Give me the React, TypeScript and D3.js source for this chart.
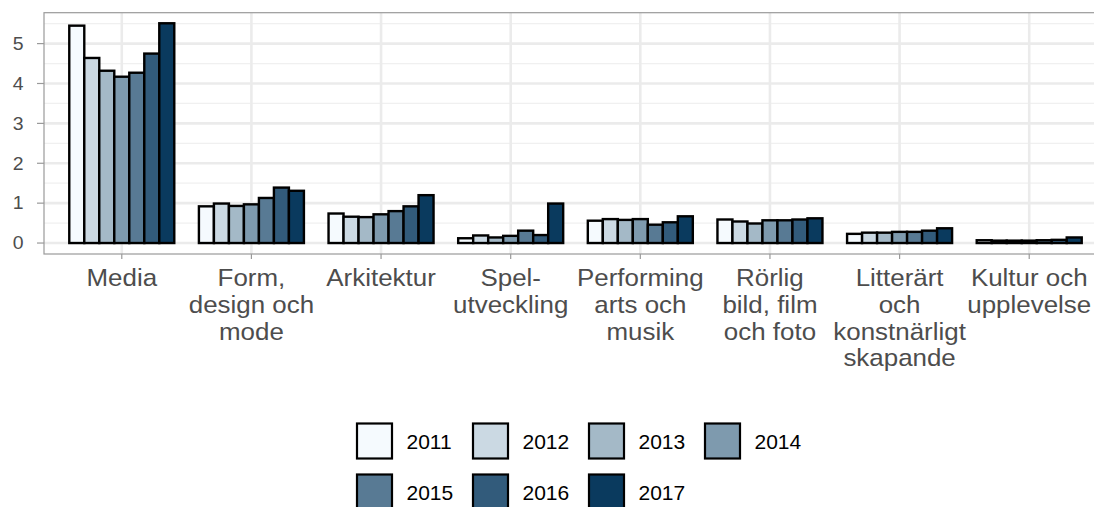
import React from 'react';
import * as d3 from 'd3';

// categories (line breaks as in the original axis)
const categories = [
  'Media',
  'Form,\ndesign och\nmode',
  'Arkitektur',
  'Spel-\nutveckling',
  'Performing\narts och\nmusik',
  'Rörlig\nbild, film\noch foto',
  'Litterärt\noch\nkonstnärligt\nskapande',
  'Kultur och\nupplevelse',
];

const years = ['2011', '2012', '2013', '2014', '2015', '2016', '2017'];

// values per category, one per year
const media = [5.45, 4.64, 4.32, 4.17, 4.27, 4.75, 5.51];
const form = [0.92, 0.99, 0.93, 0.97, 1.13, 1.39, 1.31];
const arkitektur = [0.74, 0.66, 0.65, 0.72, 0.8, 0.92, 1.2];
const spel = [0.12, 0.19, 0.14, 0.18, 0.31, 0.2, 0.99];
const performing = [0.56, 0.6, 0.58, 0.6, 0.46, 0.52, 0.67];
const rorlig = [0.59, 0.54, 0.49, 0.57, 0.57, 0.59, 0.62];
const litterart = [0.23, 0.26, 0.26, 0.28, 0.28, 0.31, 0.37];
const kultur = [0.07, 0.06, 0.06, 0.06, 0.07, 0.08, 0.14];

const values = [media, form, arkitektur, spel, performing, rorlig, litterart, kultur];

const yTicks = [0, 1, 2, 3, 4, 5];
const yMinor = [0.5, 1.5, 2.5, 3.5, 4.5, 5.5];

const colors = ['#F5FAFE', '#CBD9E3', '#A4B9C7', '#7E9AAE', '#587A94', '#325B7B', '#0A3A5E'];

const W = 1094;
const H = 507;
const panel = { left: 44, right: 1107, top: 12.7, bottom: 254 };

const App: React.FC = () => {
  const x = d3
    .scalePoint<string>()
    .domain(categories)
    .range([panel.left, panel.right])
    .padding(0.6);

  const groupW = x.step() * 0.81;
  const inner = d3
    .scaleBand<string>()
    .domain(years)
    .range([-groupW / 2, groupW / 2])
    .padding(0);

  const y = d3
    .scaleLinear()
    .domain([-0.275, 5.775])
    .range([panel.bottom, panel.top]);

  const color = d3.scaleOrdinal<string, string>().domain(years).range(colors);

  const font = '"Liberation Sans", Arial, sans-serif';

  return (
    <svg
      width={W}
      height={H}
      style={{ position: 'absolute', left: 0, top: 0, background: '#fff' }}
      fontFamily={font}
    >
      <defs>
        <clipPath id="panel">
          <rect x={panel.left} y={panel.top} width={panel.right - panel.left} height={panel.bottom - panel.top} />
        </clipPath>
      </defs>

      {/* grid */}
      <g clipPath="url(#panel)">
        {yMinor.map((t) => (
          <line key={'mi' + t} x1={panel.left} x2={panel.right} y1={y(t)} y2={y(t)} stroke="#F0F0F0" strokeWidth={1.3} />
        ))}
        {yTicks.map((t) => (
          <line key={'ma' + t} x1={panel.left} x2={panel.right} y1={y(t)} y2={y(t)} stroke="#EBEBEB" strokeWidth={2.6} />
        ))}
        {categories.map((c) => (
          <line key={'v' + c} x1={x(c)} x2={x(c)} y1={panel.top} y2={panel.bottom} stroke="#EBEBEB" strokeWidth={2.6} />
        ))}
      </g>

      {/* bars */}
      {categories.map((c, ci) => (
        <g key={c} transform={`translate(${x(c)},0)`}>
          {years.map((yr, yi) => {
            const v = values[ci][yi];
            return (
              <rect
                key={yr}
                x={inner(yr)!}
                y={y(v)}
                width={inner.bandwidth()}
                height={y(0) - y(v)}
                fill={color(yr)}
                stroke="#000"
                strokeWidth={2.4}
              />
            );
          })}
        </g>
      ))}

      {/* panel border */}
      <rect
        x={panel.left}
        y={panel.top}
        width={panel.right - panel.left}
        height={panel.bottom - panel.top}
        fill="none"
        stroke="#9A9A9A"
        strokeWidth={1.2}
      />

      {/* y axis */}
      {yTicks.map((t) => (
        <g key={'yt' + t}>
          <line x1={panel.left - 7} x2={panel.left} y1={y(t)} y2={y(t)} stroke="#9A9A9A" strokeWidth={1.2} />
          <text
            transform={`translate(23.5,${y(t) + 6.3}) scale(1.08,1)`}
            textAnchor="end"
            fontSize={18}
            fill="#4D4D4D"
          >
            {t}
          </text>
        </g>
      ))}

      {/* x axis */}
      {categories.map((c) => (
        <g key={'xt' + c}>
          <line x1={x(c)} x2={x(c)} y1={panel.bottom} y2={panel.bottom + 5} stroke="#9A9A9A" strokeWidth={1.2} />
          <text
            transform={`translate(${x(c)},286) scale(1.08,1)`}
            textAnchor="middle"
            fontSize={24}
            fill="#4D4D4D"
          >
            {c.split('\n').map((line, i) => (
              <tspan key={i} x={0} dy={i === 0 ? 0 : 26.8}>
                {line}
              </tspan>
            ))}
          </text>
        </g>
      ))}

      {/* legend */}
      {years.map((yr, i) => {
        const col = i % 4;
        const row = Math.floor(i / 4);
        const lx = 357 + col * 116;
        const ly = 423.5 + row * 51;
        return (
          <g key={'lg' + yr}>
            <rect x={lx} y={ly} width={35} height={35} fill={color(yr)} stroke="#000" strokeWidth={2.2} />
            <text x={lx + 49.5} y={ly + 25} fontSize={21} fill="#000">
              {yr}
            </text>
          </g>
        );
      })}
    </svg>
  );
};

export default App;
